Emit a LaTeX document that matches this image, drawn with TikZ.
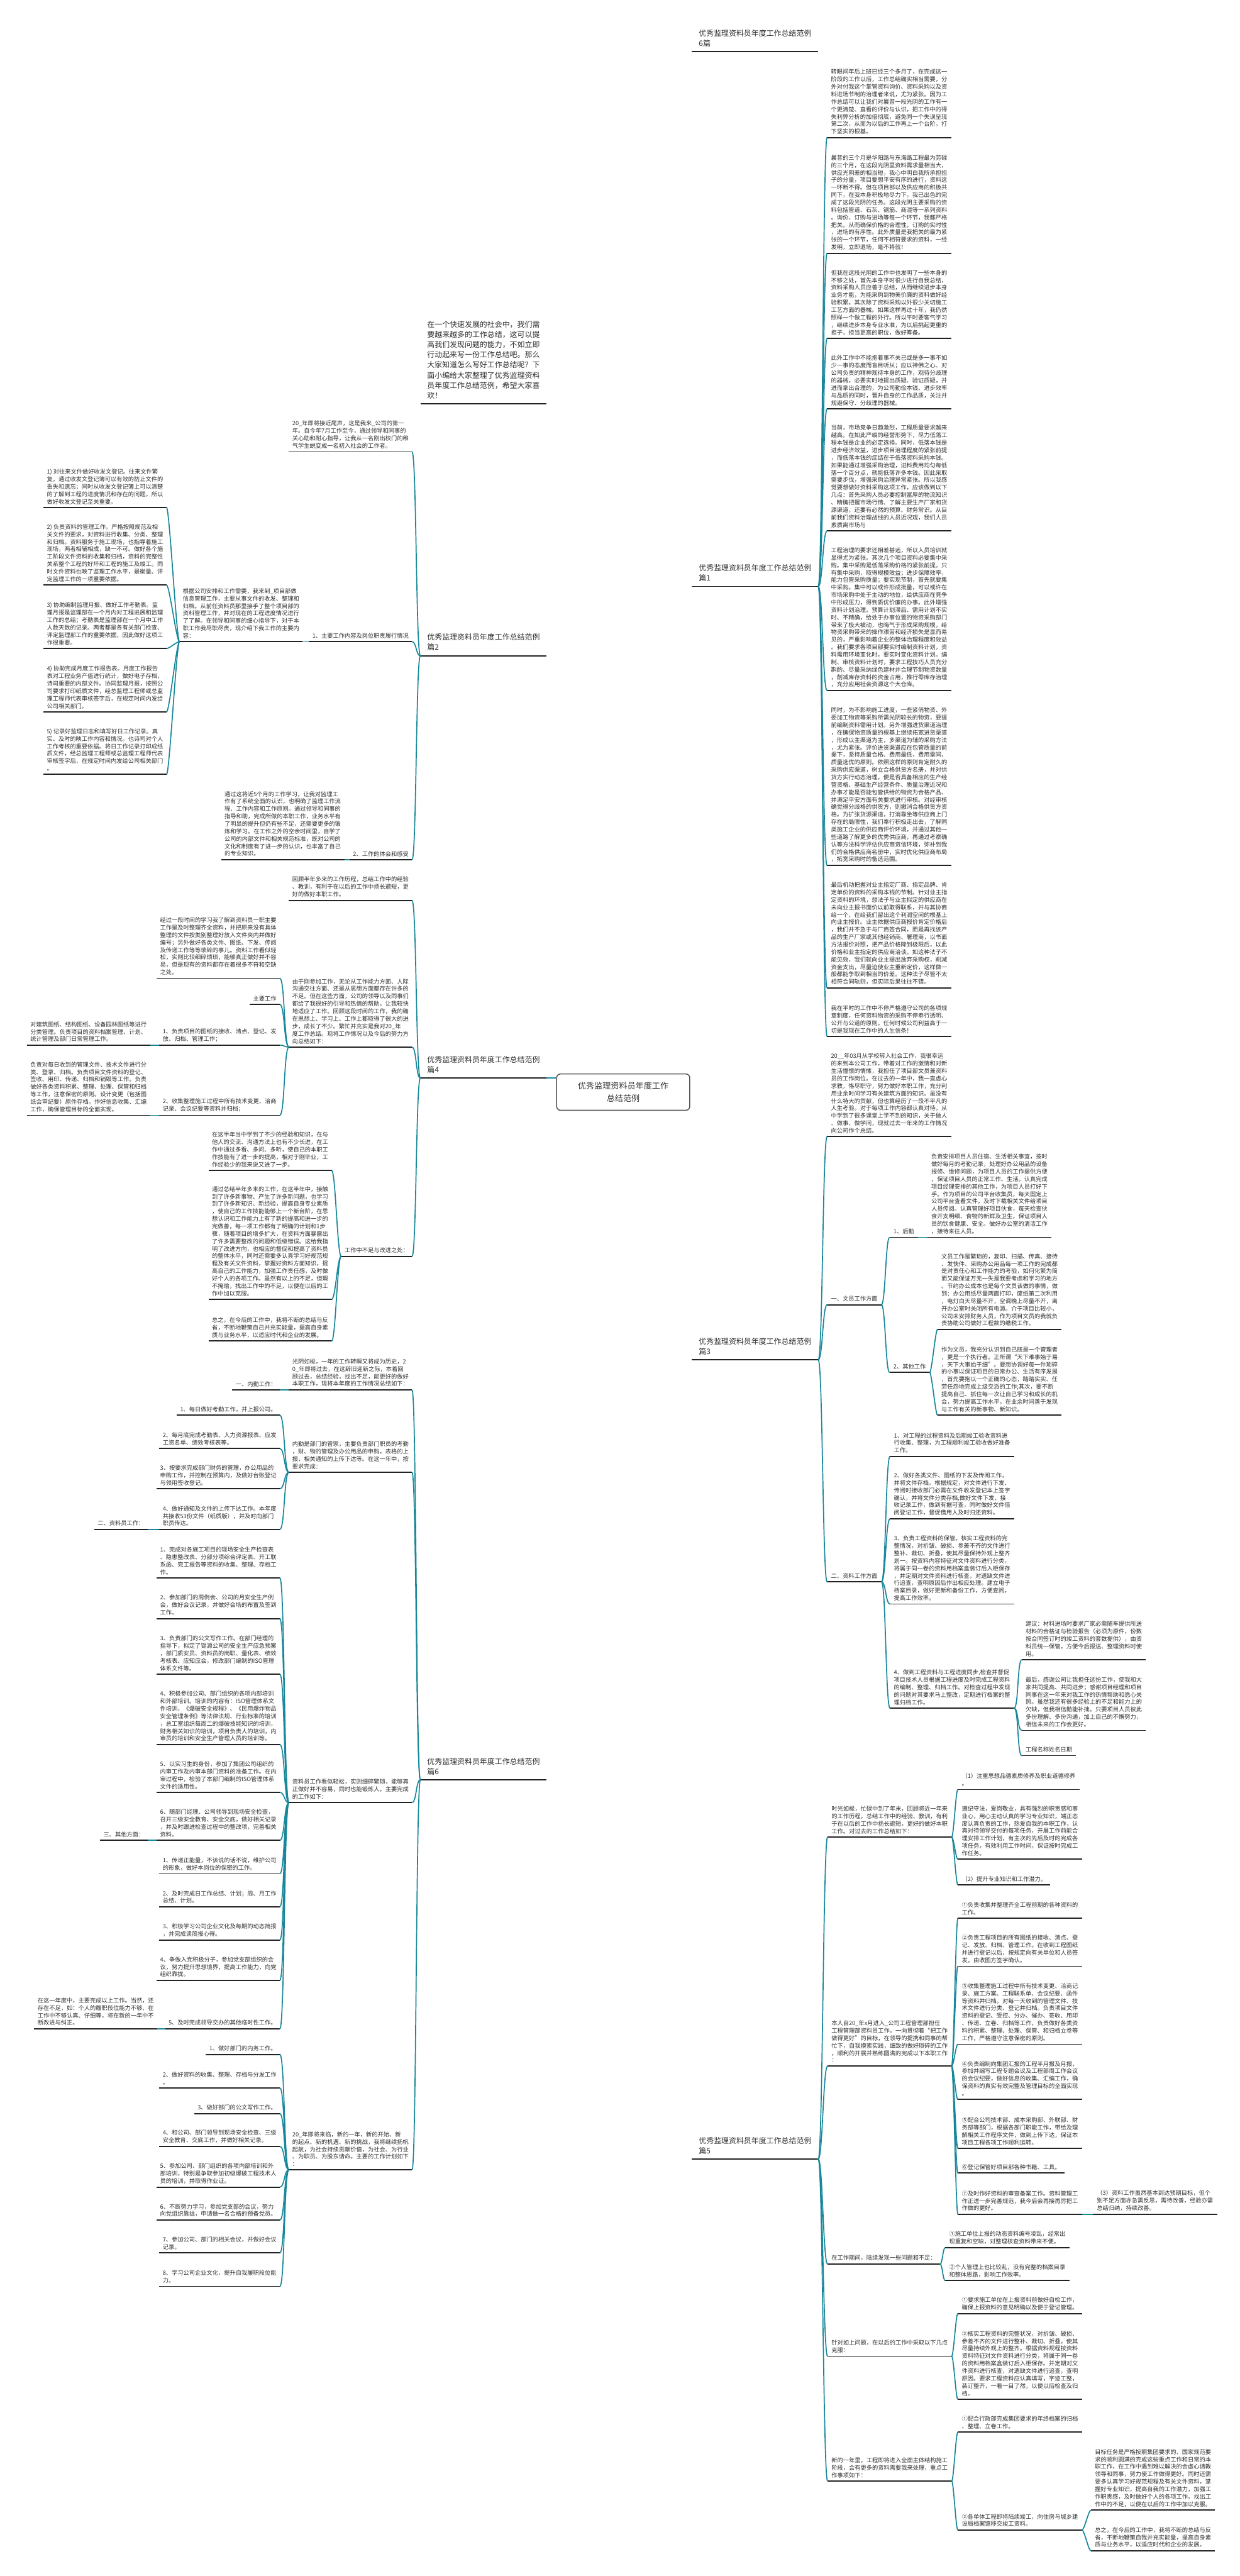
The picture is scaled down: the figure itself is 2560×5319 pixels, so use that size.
\documentclass[tikz,border=0pt]{standalone}
\usepackage{fontspec}
\newfontfamily\cjk{Noto Sans CJK SC}
\usetikzlibrary{positioning,backgrounds}
\definecolor{branch}{HTML}{17879A}
\definecolor{ink}{HTML}{222222}
\definecolor{txt}{HTML}{2E2E2E}
\definecolor{hubline}{HTML}{555555}

\tikzset{
  uline/.style={draw=ink, line width=2.4pt},
  conn/.style={draw=branch, line width=2.2pt},
  base/.style={align=left, text=txt, inner ysep=6.5pt,
    font=\cjk\fontsize{12}{15.4}\selectfont,
    append after command={(\tikzlastnode.south west) edge[uline] (\tikzlastnode.south east)}},
  rt/.style={base, anchor=south west, inner xsep=8pt},
  lt/.style={base, anchor=south east, inner xsep=7pt},
  lab/.style={base, font=\cjk\fontsize{15.5}{21}\selectfont, inner xsep=14pt, inner ysep=10pt},
  labR/.style={lab, anchor=south west},
  labL/.style={lab, anchor=south east},
  hub/.style={draw=hubline, line width=2pt, rounded corners=8pt, fill=white, align=center,
    text=txt, font=\cjk\fontsize{17}{25}\selectfont, minimum width=275pt, minimum height=75pt}
}

\begin{document}
\begin{tikzpicture}[x=1pt,y=-1pt]
  \useasboundingbox (0,0) rectangle (2560,5319);
  \fill[white] (0,0) rectangle (2560,5319);

  % centre
  \node[hub] (hub) at (1287,2255) {优秀监理资料员年度工作\\总结范例};

  % first level, right
  \node[labR] (pA) at (1429,107) {优秀监理资料员年度工作总结范例\\6篇};
  \node[labR] (pB) at (1429,1211) {优秀监理资料员年度工作总结范例\\篇1};
  \node[labR] (pC) at (1429,2808) {优秀监理资料员年度工作总结范例\\篇3};
  \node[labR] (pD) at (1429,4458) {优秀监理资料员年度工作总结范例\\篇5};
  % first level, left
  \node[labL] (intro) at (1129,834) {在一个快速发展的社会中，我们需\\要越来越多的工作总结，这可以提\\高我们发现问题的能力，不如立即\\行动起来写一份工作总结吧。那么\\大家知道怎么写好工作总结呢？下\\面小编给大家整理了优秀监理资料\\员年度工作总结范例，希望大家喜\\欢！};
  \node[labL] (pL2) at (1129,1354) {优秀监理资料员年度工作总结范例\\篇2};
  \node[labL] (pL4) at (1129,2226) {优秀监理资料员年度工作总结范例\\篇4};
  \node[labL] (pL6) at (1129,3675) {优秀监理资料员年度工作总结范例\\篇6};

  \begin{scope}[on background layer]
    \draw[conn] (hub.center) -- (1372,2255) -- (1372,287) .. controls (1372,107) .. (pA.south west);
    \draw[conn] (hub.center) -- (1372,2255) -- (1372,1331) .. controls (1372,1211) .. (pB.south west);
    \draw[conn] (hub.center) -- (1372,2255) -- (1372,2688) .. controls (1372,2808) .. (pC.south west);
    \draw[conn] (hub.center) -- (1372,2255) -- (1372,4278) .. controls (1372,4458) .. (pD.south west);
    \draw[conn] (hub.center) -- (1203,2255) -- (1203,1034) .. controls (1203,834) .. (intro.south east);
    \draw[conn] (hub.center) -- (1203,2255) -- (1203,1465) .. controls (1203,1354) .. (pL2.south east);
    \draw[conn] (hub.center) -- (1203,2255) -- (1203,3475) .. controls (1203,3675) .. (pL6.south east);
  \end{scope}
  \draw[conn] (pL4.south east) -- (hub.west |- pL4.south east);

  % ---- 篇1
  \node[rt] (b1) at (1708,284) {转眼间年后上班已经三个多月了，在完成这一\\阶段的工作以后，工作总结确实相当需要，分\\外对付我这个掌管资料询价、资料采购以及资\\料进场节制的治理者来说，尤为紧张。因为工\\作总结可以让我们对曩昔一段光阴的工作有一\\个更清楚、直看的评价与认识，把工作中的得\\失利弊分析的加倍彻底，避免同一个失误呈现\\第二次，从而为以后的工作再上一个台阶，打\\下坚实的根基。};
  \node[rt] (b2) at (1708,523) {曩昔的三个月是华阳路与东海路工程最为劳碌\\的三个月，在这段光阴里资料需求量相当大，\\供应光阴差的相当短，我心中明白我所承担担\\子的分量，项目要想平安有序的进行，资料这\\一环断不得。但在项目部以及供应商的积极共\\同下，在我本身积极地尽力下，我已出色的完\\成了这段光阴的任务。这段光阴主要采购的资\\料包括管道、石灰、钢筋、商混等一系列资料\\。询价、订购与进场等每一个环节，我都严格\\把关。从而确保价格的合理性，订购的实时性\\，进场的有序性。此外质量是我把关的最为紧\\张的一个环节，任何不相符要求的资料，一经\\发明，立即退场，毫不将就！};
  \node[rt] (b3) at (1708,699) {但我在这段光阴的工作中也发明了一些本身的\\不够之处，首先本身平时很少进行自我总结，\\资料采购人员应善于总结，从而继续进步本身\\业务才能，为能采购到物美价廉的资料做好经\\验积累。其次除了资料采购以外很少关切施工\\工艺方面的器械。如果这样再过十年，我仍然\\照样一个做工程的外行。所以平时要客气学习\\，继续进步本身专业水准，为以后挑起更重的\\担子，担当更高的职位，做好筹备。};
  \node[rt] (b4) at (1708,844) {此外工作中不能抱着事不关己或是多一事不如\\少一事的态度而盲目听从；应以神佛之心、对\\公司负责的精神观待本身的工作，观待分歧理\\的器械，必要实时地提出质疑、验证质疑，并\\进而拿出合理的，为公司勤俭本钱、进步效率\\与品质的同时，晋升自身的工作品质，关注并\\规避保守、分歧理的器械。};
  \node[rt] (b5) at (1708,1096) {当前，市场竞争日趋激烈，工程质量要求越来\\越高。在如此严峻的经营形势下，尽力低落工\\程本钱是企业的必定选择。同时，低落本钱是\\进步经济效益，进步项目治理程度的紧张前提\\，而低落本钱的症结在于低落资料采购本钱。\\如果能通过增强采购治理，进料费用均匀每低\\落一个百分点，就能低落许多本钱。因此采取\\需要步伐，增强采购治理异常紧张。所以我感\\觉要想做好资料采购这项工作，应该做到以下\\几点：首先采购人员必要控制富厚的物流知识\\、精确把握市场行情、了解主要生产厂家和货\\源渠道，还要有必然的预算、财务常识。从目\\前我们资料治理战线的人员近况观，我们人员\\素质离市场与};
  \node[rt] (b6) at (1708,1426) {工程治理的要求还相差甚远，所以人员培训就\\显得尤为紧张。其次几个项目资料必要集中采\\购。集中采购是低落采购价格的紧张前提。只\\有集中采购，取得规模效益；进步保障效率，\\能力包管采购质量；要实现节制，首先就要集\\中采购。集中可以或许形成批量，可以或许在\\市场采购中处于主动的地位，给供应商在竞争\\中形成压力，得到质优价廉的办事。此外增强\\资料计划治理。预算计划滞后、需用计划不实\\时、不精确，给处于办事位置的物资采购部门\\带来了极大被动，也晦气于形成采购规模，给\\物资采购带来的操作艰苦和经济损失是显而易\\见的，严重影响着企业的整体治理程度和效益\\。我们要求各项目部要实时编制资料计划，资\\料需用环境变化时，要实时变化资料计划。编\\制、审核资料计划时，要求工程技巧人员充分\\斟酌、尽量采纳绿色建材并合理节制物资数量\\，削减库存资料的资金占用，推行零库存治理\\，充分应用社会资源这个大仓库。};
  \node[rt] (b7) at (1708,1787) {同时，为不影响施工进度，一些紧俏物资、外\\委加工物资等采购所需光阴较长的物资，要提\\前编制资料需用计划。另外增强进货渠道治理\\，在确保物资质量的根基上继续拓宽进货渠道\\，形成以主渠道为主，多渠道为辅的采购方法\\，尤为紧张。评价进货渠道应在包管质量的前\\提下，坚持质量合格、费用最低，费用雷同、\\质量选优的原则。依照这样的原则肯定耐久的\\采购供应渠道，树立合格供货方名册，并对供\\货方实行动态治理，便是否具备相应的生产经\\营资格、基础生产经营条件、质量治理近况和\\办事才能是否能包管供给的物资为合格产品、\\并满足平安方面有关要求进行审核。对经审核\\确觉得分歧格的供货方，则撤消合格供货方资\\格。为扩张货源渠道，打消靠坐等供应商上门\\存在的局限性，我们奉行积极走出去，了解同\\类施工企业的供应商评价环境，并通过其他一\\些道路了解更多的优秀供应商，再通过考察确\\认等方法科学评估供应商资信环境，弥补到我\\们的合格供应商名册中，实时优化供应商布局\\，拓宽采购时的备选范围。};
  \node[rt] (b8) at (1708,2040) {最后机动把握对业主指定厂商、指定品牌、肯\\定单价的资料的采购本钱的节制。针对业主指\\定资料的环境，想法子与业主拟定的供应商在\\未向业主报书面价以前取得联系，并与其协商\\给一个，在给我们留出这个利润空间的根基上\\向业主报价。业主依据供应商报价肯定价格后\\，我们并不急于与厂商签合同，而是再找该产\\品的生产厂家或其他经销商、署理商，以书面\\方法报价对照，把产品价格降到极限后，以此\\价格和业主指定的供应商洽谈。如这种法子不\\能见效，我们就向业主提出放弃采购权，削减\\资金支出，尽量迫使业主重新定价，这样做一\\般都能争取到相当的价差。这种法子尽管不太\\相符合同轨则，但实际后果往往不错。};
  \node[rt] (b9) at (1708,2140) {我在平时的工作中不停严格遵守公司的各项规\\章制度，任何资料物资的采购不停奉行透明、\\公开与公道的原则。任何时候公司利益高于一\\切是我现在工作中的人生信条！};
  \foreach \c in {b1,b2,b3,b4,b5,b6,b7,b8,b9}
    \draw[conn] (pB.south east) .. controls +(9,0) and +(-9,0) .. (\c.south west);

  % ---- 篇3
  \node[rt] (c0) at (1708,2347) {20\_\_年03月从学校转入社会工作，我很幸运\\的来到本公司工作，带着对工作的激情和对新\\生活憧憬的情愫，我担任了项目部文员兼资料\\员的工作岗位。在过去的一年中，我一直虚心\\求教，恪尽职守，努力做好本职工作，充分利\\用业余时间学习有关建筑方面的知识。虽没有\\什么特大的贡献，但也算经历了一段不平凡的\\人生考验。对于每项工作内容都认真对待，从\\中学到了很多课堂上学不到的知识，关于做人\\、做事、做学问，现就过去一年来的工作情况\\向公司作个总结。};
  \node[rt] (c1) at (1708,2694) {一、文员工作方面};
  \node[rt] (c2) at (1708,3266) {二、资料工作方面};
  \foreach \c in {c0,c1,c2}
    \draw[conn] (pC.south east) .. controls +(9,0) and +(-9,0) .. (\c.south west);

  \node[rt] (c11) at (1837,2555) {1、后勤};
  \node[rt] (c11t) at (1915,2555) {负责安排项目人员住宿、生活相关事宜，按时\\做好每月的考勤记录，处理好办公用品的设备\\报修、维修问题，为项目人员的工作提供方便\\，保证项目人员的正常工作、生活。认真完成\\项目经理安排的其他工作，为项目人员打好下\\手。作为项目的公司平台收集员，每天固定上\\公司平台查看文件，及时下载相关文件给项目\\人员传阅。认真管理好项目伙食，每天检查伙\\食开支明细、食物的新鲜及卫生，保证项目人\\员的饮食健康、安全。做好办公室的清洁工作\\，接待来往人员。};
  \node[rt] (c12) at (1837,2834) {2、其他工作};
  \node[rt] (c12a) at (1936,2745) {文员工作是繁琐的，复印、扫描、传真、接待\\、发快件、采购办公用品每一项工作的完成都\\是对责任心和工作能力的考验，如何化繁为简\\而又能保证万无一失是我要考虑和学习的地方\\。节约办公成本也是每个文员该做的事情，做\\到：办公用纸尽量两面打印，废纸第二次利用\\，电灯白天尽量不开，空调晚上尽量不开，离\\开办公室时关闭所有电源。介于项目比较小，\\公司未安排财务人员，作为项目文员的我就负\\责协助公司做好工程款的缴税工作。};
  \node[rt] (c12b) at (1936,2922) {作为文员，我充分认识到自己既是一个管理者\\，更是一个执行者。正所谓“天下难事始于易\\，天下大事始于细”。要想协调好每一件琐碎\\的小事以保证项目的日常办公、生活有序发展\\，首先要抱以一个正确的心态，踏踏实实、任\\劳任怨地完成上级交派的工作;其次，要不断\\提高自己、抓住每一次让自己学习和成长的机\\会，努力提高工作水平，在业余时间善于发现\\与工作有关的新事物、新知识。};
  \foreach \c in {c11,c12}
    \draw[conn] (c1.south east) .. controls +(8,0) and +(-8,0) .. (\c.south west);
  \draw[conn] (c11.south east) -- (c11t.south west);
  \foreach \c in {c12a,c12b}
    \draw[conn] (c12.south east) .. controls +(4,0) and +(-4,0) .. (\c.south west);

  \node[rt] (c21) at (1838,3007) {1、对工程的过程资料及后期竣工验收资料进\\行收集、整理，为工程顺利竣工验收做好准备\\工作。};
  \node[rt] (c22) at (1838,3136) {2、做好各类文件、图纸的下发及传阅工作，\\并将文件存档。根据规定，对文件进行下发、\\传阅时接收部门必需在文件收发登记本上签字\\确认，并将文件分类存档,做好文件下发、接\\收记录工作，做到有据可查，同时做好文件借\\阅登记工作，督促借用人及时归还资料。};
  \node[rt] (c23) at (1838,3312) {3、负责工程资料的保管。核实工程资料的完\\整情况，对折皱、破损、参差不齐的文件进行\\整补、裁切、折叠，使其尽量保持外观上整齐\\划一。按资料内容特征对文件资料进行分类，\\将属于同一卷的资料用档案盒装订后入柜保存\\，并定期对文件资料进行核查，对遗缺文件进\\行追查，查明原因后作出相应处理。建立电子\\档案目录，做好更新和备份工作，方便查阅，\\提高工作效率。};
  \node[rt] (c24) at (1838,3527) {4、做到工程资料与工程进度同步,检查并督促\\项目技术人员根据工程进度及时完成工程资料\\的编制、整理、归档工作。对检查过程中发现\\的问题对其要求马上整改，定期进行档案的整\\理归档工作。};
  \foreach \c in {c21,c22,c23,c24}
    \draw[conn] (c2.south east) .. controls +(9,0) and +(-9,0) .. (\c.south west);
  \node[rt] (c24a) at (2110,3427) {建议：材料进场时要求厂家必需随车提供所送\\材料的合格证与检验报告（必须为原件，份数\\按合同签订时的竣工资料的套数提供），由资\\料员统一保管，方便今后报送、整理资料时使\\用。};
  \node[rt] (c24b) at (2110,3573) {最后，感谢公司让我担任这份工作，使我和大\\家共同提高、共同进步；感谢项目经理和项目\\同事在这一年来对我工作的热情帮助和悉心关\\照。虽然我还有很多经验上的不足和能力上的\\欠缺，但我相信勤能补拙。只要项目人员彼此\\多份理解、多份沟通，加上自己的不懈努力，\\相信未来的工作会更好。};
  \node[rt] (c24c) at (2110,3625) {工程名称姓名日期};
  \foreach \c in {c24a,c24b,c24c}
    \draw[conn] (c24.south east) .. controls +(9,0) and +(-9,0) .. (\c.south west);

  % ---- 篇5
  \node[rt] (d1) at (1709,3793) {时光如梭，忙碌中到了年末，回顾将近一年来\\的工作历程，总结工作中的经验、教训，有利\\于在以后的工作中扬长避短，更好的做好本职\\工作。对过去的工作总结如下：};
  \node[rt] (d2) at (1709,4266) {本人自20\_年x月进入\_公司工程管理部担任\\工程管理部资料员工作。一向贯彻着“把工作\\做得更好”的目标，在领导的提携和同事的帮\\忙下，自我摸索实践，细致的做好琐碎的工作\\，顺利的开展并熟练圆满的完成以下本职工作\\：};
  \node[rt] (d3) at (1709,4675) {在工作期间，陆续发现一些问题和不足：};
  \node[rt] (d4) at (1709,4865) {针对如上问题，在以后的工作中采取以下几点\\克服：};
  \node[rt] (d5) at (1709,5123) {新的一年里，工程即将进入全面主体结构施工\\阶段，会有更多的资料需要我来处理，重点工\\作事项如下：};
  \foreach \c in {d1,d2,d3,d4,d5}
    \draw[conn] (pD.south east) .. controls +(9,0) and +(-9,0) .. (\c.south west);

  \node[rt] (d1a) at (1978,3695) {（1）注重思想品德素质修养及职业道德修养\\。};
  \node[rt] (d1b) at (1978,3839) {遵纪守法，爱岗敬业，具有强烈的职责感和事\\业心，用心主动认真的学习专业知识，端正态\\度认真负责的工作，热爱自我的本职工作，认\\真对待领导交付的每项任务，开展工作前能合\\理安排工作计划，有主次的先后及时的完成各\\项任务，有效利用工作时间，保证按时完成工\\作任务。};
  \node[rt] (d1c) at (1978,3892) {（2）提升专业知识和工作潜力。};
  \foreach \c in {d1a,d1b,d1c}
    \draw[conn] (d1.south east) .. controls +(4,0) and +(-4,0) .. (\c.south west);

  \node[rt] (d2a) at (1978,3961) {①负责收集并整理齐全工程前期的各种资料的\\工作。};
  \node[rt] (d2b) at (1978,4060) {②负责工程项目的所有图纸的接收、清点、登\\记、发放、归档、管理工作。在收到工程图纸\\并进行登记以后，按规定向有关单位和人员签\\发，由收图方签字确认。};
  \node[rt] (d2c) at (1978,4221) {③收集整理施工过程中所有技术变更、洽商记\\录、施工方案、工程联系单、会议纪要、函件\\等资料并归档。对每一天收到的管理文件、技\\术文件进行分类、登记并归档。负责项目文件\\资料的登记、受控、分办、催办、签收、用印\\、传递、立卷、归档等工作，负责做好各类资\\料的积累、整理、处理、保管、和归档立卷等\\工作，严格遵守注意保密的原则。};
  \node[rt] (d2d) at (1978,4335) {④负责编制向集团汇报的工程半月报及月报，\\参加并编写工程专题会议及工程部周工作会议\\的会议纪要，做好信息的收集、汇编工作，确\\保资料的真实有效完整及管理目标的全面实现\\。};
  \node[rt] (d2e) at (1978,4436) {⑤配合公司技术部、成本采购部、外联部、财\\务部等部门，根据各部门职能工作，带给及理\\解相关工作程序文件，做到上传下达，保证本\\项目工程各项工作顺利运转。};
  \node[rt] (d2f) at (1978,4487) {⑥登记保管好项目部各种书籍、工具。};
  \node[rt] (d2g) at (1978,4572) {⑦及时作好资料的审查备案工作。资料管理工\\作正进一步完善规范，我今后会再接再厉把工\\作做的更好。};
  \foreach \c in {d2a,d2b,d2c,d2d,d2e,d2f,d2g}
    \draw[conn] (d2.south east) .. controls +(4,0) and +(-4,0) .. (\c.south west);
  \node[rt] (d2g1) at (2257,4572) {（3）资料工作虽然基本到达预期目标，但个\\别不足方面亦急需反思，需待改善，经验亦需\\总结归纳，持续改善。};
  \draw[conn] (d2g.south east) -- (d2g1.south west);

  \node[rt] (d3a) at (1952,4641) {①施工单位上报的动态资料编号凌乱，经常出\\现重复和空缺，对整理核查资料带来不便。};
  \node[rt] (d3b) at (1952,4709) {②个人管理上也比较乱，没有完整的档案目录\\和整体思路，影响工作效率。};
  \foreach \c in {d3a,d3b}
    \draw[conn] (d3.south east) .. controls +(5,0) and +(-5,0) .. (\c.south west);

  \node[rt] (d4a) at (1978,4777) {①要求施工单位在上报资料前做好自检工作，\\确保上报资料的意见明确以及便于登记管理。};
  \node[rt] (d4b) at (1978,4954) {②核实工程资料的完整状况，对折皱、破损、\\参差不齐的文件进行整补、裁切、折叠，使其\\尽量持续外观上的整齐。根据资料规程按资料\\资料特征对文件资料进行分类，将属于同一卷\\的资料用档案盒装订后入柜保存。并定期对文\\件资料进行核查，对遗缺文件进行追查，查明\\原因。要求工程资料应认真填写，字迹工整，\\装订整齐，一看一目了然，以便以后检查及归\\档。};
  \foreach \c in {d4a,d4b}
    \draw[conn] (d4.south east) .. controls +(4,0) and +(-4,0) .. (\c.south west);

  \node[rt] (d5a) at (1978,5022) {①配合行政部完成集团要求的年终档案的归档\\、整理、立卷工作。};
  \node[rt] (d5b) at (1978,5224) {②各单体工程即将陆续竣工，向住房与城乡建\\设局档案馆移交竣工资料。};
  \foreach \c in {d5a,d5b}
    \draw[conn] (d5.south east) .. controls +(4,0) and +(-4,0) .. (\c.south west);
  \node[rt] (d5b1) at (2253,5183) {目标任务是严格按照集团要求的、国家规范要\\求的顺利圆满的完成这些重点工作和日常的本\\职工作，在工作中遇到难以解决的会虚心请教\\领导和同事，努力使工作做得更好。同时还需\\要多认真学习好规范规程及有关文件资料，掌\\握好专业知识，提高自我的工作潜力，加强工\\作职责感，及时做好个人的各项工作。找出工\\作中的不足，以便在以后的工作中加以克服。};
  \node[rt] (d5b2) at (2253,5267) {总之，在今后的工作中，我将不断的总结与反\\省，不断地鞭策自我并充实能量，提高自身素\\质与业务水平，以适应时代和企业的发展。};
  \foreach \c in {d5b1,d5b2}
    \draw[conn] (d5b.south east) .. controls +(5,0) and +(-5,0) .. (\c.south west);

  % ---- 篇2
  \node[lt] (e1) at (851,933) {20\_年即将接近尾声，这是我来\_公司的第一\\年。自今年7月工作至今，通过领导和同事的\\关心助和耐心指导，让我从一名刚出校门的稚\\气学生蜕变成一名初入社会的工作者。};
  \node[lt] (e2) at (851,1325) {1、主要工作内容及岗位职责履行情况};
  \node[lt] (e3) at (851,1775) {2、工作的体会和感受};
  \foreach \c in {e1,e2,e3}
    \draw[conn] (pL2.south west) .. controls +(-9,0) and +(9,0) .. (\c.south east);
  \node[lt] (e2t) at (625,1325) {根据公司安排和工作需要，我来到\_项目部做\\信息管理工作，主要从事文件的收发、整理和\\归档。从前任资料员那里接手了整个项目部的\\资料管理工作，并对现在的工程进度情况进行\\了了解。在领导和同事的细心指导下，对于本\\职工作我尽职尽责，现介绍下我工作的主要内\\容：};
  \draw[conn] (e2.south west) -- (e2t.south east);
  \node[lt] (e2a) at (344,1048) {1) 对往来文件做好收发文登记。往来文件繁\\复，通过收发文登记簿可以有效的防止文件的\\丢失和遗忘；同时从收发文登记簿上可以清楚\\的了解到工程的进度情况和存在的问题，所以\\做好收发文登记至关重要。};
  \node[lt] (e2b) at (344,1208) {2) 负责资料的管理工作。严格按照规范及相\\关文件的要求，对资料进行收集、分类、整理\\和归档。资料服务于施工现场，也指导着施工\\现场，两者相辅相成，缺一不可。做好各个施\\工阶段文件资料的收集和归档，资料的完整性\\关系整个工程的好坏和工程的施工及竣工。同\\时文件资料也映了监理工作水平，是衡量、评\\定监理工作的一项重要依据。};
  \node[lt] (e2c) at (344,1339) {3) 协助编制监理月报、做好工作考勤表。监\\理月报是监理部在一个月内对工程进展和监理\\工作的总结；考勤表是监理部在一个月中工作\\人数天数的记录。两者都是各有关部门检查、\\评定监理部工作的重要依据，因此做好这项工\\作很重要。};
  \node[lt] (e2d) at (344,1470) {4) 协助完成月度工作报告表。月度工作报告\\表对工程业务产值进行统计，做好电子存档，\\诗司重要的内部文件。协同监理月报，按照公\\司要求打印纸质文件，经总监理工程师或总监\\理工程师代表审核签字后，在规定时间内发给\\公司相关部门。};
  \node[lt] (e2e) at (344,1599) {5) 记录好监理日志和填写好日工作记录。真\\实、及时的映工作内容和情况。也诗司对个人\\工作考核的重要依据。将日工作记录打印成纸\\质文件，经总监理工程师或总监理工程师代表\\审核签字后，在规定时间内发给公司相关部门\\。};
  \foreach \c in {e2a,e2b,e2c,e2d,e2e}
    \draw[conn] (e2t.south west) .. controls +(-6,0) and +(6,0) .. (\c.south east);
  \node[lt] (e3t) at (711,1775) {通过这将近5个月的工作学习，让我对监理工\\作有了系统全面的认识，也明确了监理工作流\\程、工作内容和工作原则。通过领导和同事的\\指导和助，完成所做的本职工作，业务水平有\\了明显的提升但仍有些不足，还需要更多的锻\\炼和学习。在工作之外的空余时间里，自学了\\公司的内部文件和相关规范标准，既对公司的\\文化和制度有了进一步的认识，也丰富了自己\\的专业知识。};
  \draw[conn] (e3.south west) -- (e3t.south east);

  % ---- 篇4
  \node[lt] (f1) at (851,1859) {回顾半年多来的工作历程，总结工作中的经验\\、教训，有利于在以后的工作中扬长避短，更\\好的做好本职工作。};
  \node[lt] (f2) at (851,2162) {由于刚参加工作，无论从工作能力方面、人际\\沟通交往方面、还是从思想方面都存在许多的\\不足。但在这些方面，公司的领导以及同事们\\都给了我很好的引导和热情的帮助，让我较快\\地适应了工作。回顾这段时间的工作，我的确\\在思想上、学习上、工作上都取得了很大的进\\步，成长了不少。繁忙并充实是我对20\_年\\度工作总结。现将工作情况以及今后的努力方\\向总结如下：};
  \node[lt] (f3) at (851,2594) {工作中不足与改进之处：};
  \foreach \c in {f1,f2,f3}
    \draw[conn] (pL4.south west) .. controls +(-9,0) and +(9,0) .. (\c.south east);
  \node[lt] (f2a) at (578,2020) {经过一段时间的学习我了解到资料员一职主要\\工作是及时整理齐全资料，并把原来没有具体\\整理的文件按类别整理好放入文件夹内并做好\\编号；另外做好各类文件、图纸、下发、传阅\\及传递工作等等琐碎的事儿。资料工作看似轻\\松，实则比较细碎烦琐，能够真正做好并不容\\易，但是现有的资料都存在着很多不符和空缺\\之处。};
  \node[lt] (f2b) at (578,2074) {主要工作};
  \node[lt] (f2c) at (578,2158) {1、负责项目的图纸的接收、清点、登记、发\\放、归档、管理工作；};
  \node[lt] (f2d) at (578,2303) {2、收集整理施工过程中所有技术变更、洽商\\记录、会议纪要等资料并归档；};
  \foreach \c in {f2a,f2b,f2c,f2d}
    \draw[conn] (f2.south west) .. controls +(-10,0) and +(10,0) .. (\c.south east);
  \node[lt] (f2c1) at (310,2158) {对建筑图纸、结构图纸、设备园林图纸等进行\\分类管理。负责项目的资料档案管理、计划、\\统计管理及部门日常管理工作。};
  \draw[conn] (f2c.south west) -- (f2c1.south east);
  \node[lt] (f2d1) at (310,2303) {负责对每日收到的管理文件、技术文件进行分\\类、登录、归档。负责项目文件资料的登记、\\签收、用印、传递、归档和销毁等工作。负责\\做好各类资料积累、整理、处理、保管和归档\\等工作，注意保密的原则。设计变更（包括图\\纸会审纪要）原件存档。作好信息收集、汇编\\工作，确保管理目标的全面实现。};
  \draw[conn] (f2d.south west) -- (f2d1.south east);
  \node[lt] (f3a) at (685,2417) {在这半年当中学到了不少的经验和知识，在与\\他人的交流、沟通方法上也有不少长进，在工\\作中通过多看、多问、多听，使自己的本职工\\作技能有了进一步的提高，相对于刚毕业，工\\作经验少的我来说又进了一步。};
  \node[lt] (f3b) at (685,2683) {通过总结半年多来的工作，在这半年中，接触\\到了许多新事物、产生了许多新问题，也学习\\到了许多新知识、新经验，提高自身专业素质\\，使自己的工作技能能够上一个新台阶，在思\\想认识和工作能力上有了新的提高和进一步的\\完做善，每一项工作都有了明确的计划和1步\\骤，随着项目的增多扩大，在资料方面暴露出\\了许多需要整改的问题和低级错误。这给我指\\明了改进方向，也相应的督促和提高了资料员\\的整体水平，同时还需要多认真学习好规范规\\程及有关文件资料，掌握好资料方面知识，提\\高自己的工作能力，加强工作责任感，及时做\\好个人的各项工作。虽然有以上的不足，但瑕\\不掩瑜，找出工作中的不足，以便在以后的工\\作中加以克服。};
  \node[lt] (f3c) at (685,2769) {总之，在今后的工作中，我将不断的总结与反\\省，不断地鞭策自己并充实能量，提高自身素\\质与业务水平，以适应时代和企业的发展。};
  \foreach \c in {f3a,f3b,f3c}
    \draw[conn] (f3.south west) .. controls +(-8,0) and +(8,0) .. (\c.south east);

  % ---- 篇6
  \node[lt] (g1) at (851,2870) {光阴如梭，一年的工作转瞬又将成为历史，2\\0\_年即将过去，在这辞旧迎新之际，本着回\\顾过去，总结经验，找出不足，能更好的做好\\本职工作，现将本年度的工作情况总结如下：};
  \node[lt] (g2) at (851,3040) {内勤是部门的管家，主要负责部门职员的考勤\\，财、物的管理及办公用品的申购，表格的上\\报，相关通知的上传下达等。在这一年中，按\\要求完成：};
  \node[lt] (g3) at (851,3722) {资料员工作看似轻松，实则细碎繁琐，能够真\\正做好并不容易，同时也能锻炼人。主要完成\\的工作如下：};
  \node[lt] (g4) at (851,4480) {20\_年即将来临，新的一年，新的开始、新\\的起点、新的机遇、新的挑战，我将继续扬帆\\起航，为社会持续贡献价值，为社会、为行业\\、为职员、为股东请命。主要的工作计划如下\\：};
  \foreach \c in {g1,g2,g3,g4}
    \draw[conn] (pL6.south west) .. controls +(-9,0) and +(9,0) .. (\c.south east);
  \node[lt] (g1a) at (578,2870) {一、内勤工作：};
  \draw[conn] (g1.south west) -- (g1a.south east);

  \node[lt] (g2a) at (578,2922) {1、每日做好考勤工作，并上报公司。};
  \node[lt] (g2b) at (578,2991) {2、每月底完成考勤表、人力资源报表、应发\\工资名单、绩效考核表等。};
  \node[lt] (g2c) at (578,3074) {3、按要求完成部门财务的管理，办公用品的\\申购工作，并控制在预算内，及做好台账登记\\与领用签收登记。};
  \node[lt] (g2d) at (578,3158) {4、做好通知及文件的上传下达工作。本年度\\共接收53份文件（纸质版），并及时向部门\\职员传达。};
  \foreach \c in {g2a,g2b,g2c,g2d}
    \draw[conn] (g2.south west) .. controls +(-10,0) and +(10,0) .. (\c.south east);
  \node[lt] (g2d1) at (305,3158) {二、资料员工作：};
  \draw[conn] (g2d.south west) -- (g2d1.south east);

  \node[lt] (g3a) at (578,3258) {1、完成对各施工项目的现场安全生产检查表\\、隐患整改表、分部分项综合评定表、开工联\\系函、完工报告等资料的收集、整理、存档工\\作。};
  \node[lt] (g3b) at (578,3342) {2、参加部门的周例会、公司的月安全生产例\\会，做好会议记录，并做好会场的布置及签到\\工作。};
  \node[lt] (g3c) at (578,3457) {3、负责部门的公文写作工作。在部门经理的\\指导下，拟定了锡源公司的安全生产应急预案\\，部门质安员、资料员的岗职、量化表、绩效\\考核表、应知应会，修改部门编制的ISO管理\\体系文件等。};
  \node[lt] (g3d) at (578,3602) {4、积极参加公司、部门组织的各项内部培训\\和外部培训。培训的内容有：ISO管理体系文\\件培训，《爆破安全规程》、《民用爆炸物品\\安全管理条例》等法律法规、行业标准的培训\\，总工室组织每周二的爆破技能知识的培训，\\财务相关知识的培训，项目负责人的培训，内\\审员的培训和安全生产管理人员的培训等。};
  \node[lt] (g3e) at (578,3701) {5、以实习生的身份，参加了集团公司组织的\\内审工作及内审本部门资料的准备工作。在内\\审过程中，检验了本部门编制的ISO管理体系\\文件的适用性。};
  \node[lt] (g3f) at (578,3800) {6、随部门经理、公司领导到现场安全检查，\\召开三级安全教育、安全交底，做好相关记录\\，并及时跟进检查过程中的整改项，完善相关\\资料。};
  \node[lt] (g3g) at (578,3869) {1、传递正能量，不该说的话不说，维护公司\\的形象，做好本岗位的保密的工作。};
  \node[lt] (g3h) at (578,3937) {2、及时完成日工作总结、计划；周、月工作\\总结、计划。};
  \node[lt] (g3i) at (578,4006) {3、积极学习公司企业文化及每期的动态简报\\，并完成读简报心得。};
  \node[lt] (g3j) at (578,4089) {4、争做入党积极分子，参加党支部组织的会\\议，努力提升思想境界，提高工作能力，向党\\组织靠拢。};
  \node[lt] (g3k) at (578,4189) {5、及时完成领导交办的其他临时性工作。};
  \foreach \c in {g3a,g3b,g3c,g3d,g3e,g3f,g3g,g3h,g3i,g3j,g3k}
    \draw[conn] (g3.south west) .. controls +(-10,0) and +(10,0) .. (\c.south east);
  \node[lt] (g3f1) at (305,3800) {三、其他方面：};
  \draw[conn] (g3f.south west) -- (g3f1.south east);
  \node[lt] (g3k1) at (325,4189) {在这一年度中，主要完成以上工作。当然，还\\存在不足，如：个人的履职段位能力不够、在\\工作中不够认真、仔细等，将在新的一年中不\\断改进与纠正。};
  \draw[conn] (g3k.south west) -- (g3k1.south east);

  \node[lt] (g4a) at (578,4242) {1、做好部门的内务工作。};
  \node[lt] (g4b) at (578,4311) {2、做好资料的收集、整理、存档与分发工作\\。};
  \node[lt] (g4c) at (578,4364) {3、做好部门的公文写作工作。};
  \node[lt] (g4d) at (578,4432) {4、和公司、部门领导到现场安全检查、三级\\安全教育、交底工作，并做好相关记录。};
  \node[lt] (g4e) at (578,4516) {5、参加公司、部门组织的各项内部培训和外\\部培训，特别是争取参加初级爆破工程技术人\\员的培训，并取得作业证。};
  \node[lt] (g4f) at (578,4584) {6、不断努力学习，参加党支部的会议，努力\\向党组织靠拢，申请做一名合格的预备党员。};
  \node[lt] (g4g) at (578,4652) {7、参加公司、部门的相关会议，并做好会议\\记录。};
  \node[lt] (g4h) at (578,4721) {8、学习公司企业文化，提升自我履职段位能\\力。};
  \foreach \c in {g4a,g4b,g4c,g4d,g4e,g4f,g4g,g4h}
    \draw[conn] (g4.south west) .. controls +(-10,0) and +(10,0) .. (\c.south east);
\end{tikzpicture}
\end{document}
